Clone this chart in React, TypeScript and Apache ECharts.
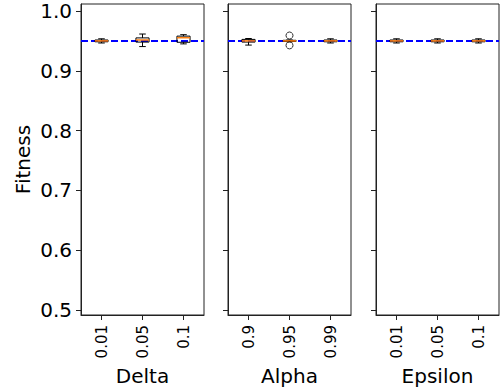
import React, { useEffect, useRef } from "react";
import * as echarts from "echarts";

const yTicks = [0.5, 0.6, 0.7, 0.8, 0.9, 1.0];
const axisNames = ["Delta", "Alpha", "Epsilon"];
const deltaCats = ["0.01", "0.05", "0.1"];
const alphaCats = ["0.9", "0.95", "0.99"];
const epsilonCats = ["0.01", "0.05", "0.1"];
// each box: [min, q1, median, q3, max]
const deltaBoxes = [
  [0.9465, 0.9485, 0.95, 0.9515, 0.9535],
  [0.9405, 0.948, 0.9515, 0.955, 0.9615],
  [0.945, 0.9477, 0.9553, 0.958, 0.9604],
];
const alphaBoxes = [
  [0.943, 0.948, 0.95, 0.9525, 0.954],
  [0.9485, 0.949, 0.95, 0.951, 0.9515],
  [0.9465, 0.9485, 0.95, 0.9515, 0.9535],
];
const epsilonBoxes = [
  [0.9465, 0.9485, 0.95, 0.9515, 0.9535],
  [0.9465, 0.9485, 0.95, 0.9515, 0.9535],
  [0.9465, 0.9485, 0.95, 0.9515, 0.9535],
];
// [category index, value]
const alphaOutliers = [
  [1, 0.959],
  [1, 0.9425],
];
const referenceLine = 0.95;

const FONT = "DejaVu Sans";

export default function App() {
  const ref = useRef<HTMLDivElement>(null);
  useEffect(() => {
    if (!ref.current) return;
    const chart = echarts.init(ref.current, null, { renderer: "svg" });
    const cats = [deltaCats, alphaCats, epsilonCats];
    const boxes = [deltaBoxes, alphaBoxes, epsilonBoxes];
    const lefts = [81, 228, 376];
    const grids = lefts.map((l) => ({
      left: l,
      width: 123,
      top: 4,
      bottom: 77,
      show: true,
      borderColor: "#222",
      borderWidth: 1,
      backgroundColor: "transparent",
    }));
    const xAxes = cats.map((c, i) => ({
      type: "category",
      gridIndex: i,
      data: c,
      name: axisNames[i],
      nameLocation: "middle",
      nameGap: 46,
      nameTextStyle: { fontFamily: FONT, fontSize: 20, color: "#000" },
      axisLine: { show: true, lineStyle: { color: "#222", width: 1 } },
      axisTick: { show: true, alignWithLabel: true, length: 5, lineStyle: { color: "#222" } },
      axisLabel: { rotate: 90, margin: 10, fontFamily: FONT, fontSize: 15, color: "#000" },
      splitLine: { show: false },
    }));
    const yAxes = cats.map((_, i) => ({
      type: "value",
      gridIndex: i,
      min: 0.4916,
      max: 1.0117,
      name: i === 0 ? "Fitness" : "",
      nameLocation: "middle",
      nameGap: 48,
      nameTextStyle: { fontFamily: FONT, fontSize: 20, color: "#000" },
      axisLine: { show: true, lineStyle: { color: "#222", width: 1 } },
      axisTick: { show: true, length: 5, customValues: yTicks, lineStyle: { color: "#222" } },
      axisLabel: {
        show: i === 0,
        customValues: yTicks,
        margin: 9,
        fontFamily: FONT,
        fontSize: 20,
        color: "#000",
        formatter: (v: number) => v.toFixed(1),
      },
      splitLine: { show: false },
    }));
    const series: any[] = [];
    boxes.forEach((b, i) => {
      series.push({
        type: "line",
        xAxisIndex: i,
        yAxisIndex: i,
        data: [],
        z: 1,
        markLine: {
          silent: true,
          z: 1,
          symbol: "none",
          label: { show: false },
          lineStyle: { color: "#0000ff", type: [7, 3], width: 2 },
          data: [{ yAxis: referenceLine }],
        },
      });
      series.push({
        type: "custom",
        xAxisIndex: i,
        yAxisIndex: i,
        z: 6,
        data: b.map((v, k) => [k, ...v]),
        encode: { x: 0, y: [1, 2, 3, 4, 5] },
        renderItem: (params: any, api: any) => {
          const x = api.value(0);
          const pMin = api.coord([x, api.value(1)]);
          const pQ1 = api.coord([x, api.value(2)]);
          const pMed = api.coord([x, api.value(3)]);
          const pQ3 = api.coord([x, api.value(4)]);
          const pMax = api.coord([x, api.value(5)]);
          const bw = api.size([1, 0])[0] * 0.32;
          const cx = pMed[0];
          const stroke = { stroke: "#000", lineWidth: 1, fill: "none" };
          return {
            type: "group",
            children: [
              { type: "line", shape: { x1: cx, y1: pQ3[1], x2: cx, y2: pMax[1] }, style: stroke },
              { type: "line", shape: { x1: cx, y1: pQ1[1], x2: cx, y2: pMin[1] }, style: stroke },
              { type: "line", shape: { x1: cx - bw / 4, y1: pMax[1], x2: cx + bw / 4, y2: pMax[1] }, style: stroke },
              { type: "line", shape: { x1: cx - bw / 4, y1: pMin[1], x2: cx + bw / 4, y2: pMin[1] }, style: stroke },
              {
                type: "rect",
                shape: { x: cx - bw / 2, y: pQ3[1], width: bw, height: pQ1[1] - pQ3[1] },
                style: stroke,
              },
              {
                type: "line",
                shape: { x1: cx - bw / 2, y1: pMed[1], x2: cx + bw / 2, y2: pMed[1] },
                style: { stroke: "#ff7f0e", lineWidth: 1.5 },
              },
            ],
          };
        },
      });
    });
    series.push({
      type: "scatter",
      xAxisIndex: 1,
      yAxisIndex: 1,
      data: alphaOutliers,
      symbol: "circle",
      symbolSize: 7,
      z: 7,
      itemStyle: { color: "rgba(0,0,0,0)", borderColor: "#000", borderWidth: 1 },
    });
    chart.setOption({
      animation: false,
      backgroundColor: "#fff",
      grid: grids,
      xAxis: xAxes,
      yAxis: yAxes,
      series,
    });
    return () => chart.dispose();
  }, []);
  return (
    <div
      ref={ref}
      style={{ position: "absolute", left: 0, top: 0, width: 502, height: 392 }}
    />
  );
}
